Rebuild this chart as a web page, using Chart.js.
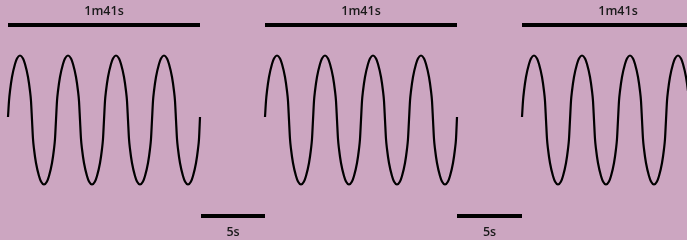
<!DOCTYPE html>
<html>
<head>
<meta charset="utf-8">
<script src="https://cdn.jsdelivr.net/npm/chart.js@4/dist/chart.umd.min.js"></script>
<style>
html,body{margin:0;padding:0;background:#cca6c1;}
#wrap{width:687px;height:240px;}
</style>
</head>
<body>
<div id="wrap"><canvas id="c"></canvas></div>
<script>
// where each wave block starts
const waveStarts=[8,265,522];
// one block of 4 cycles (x offset inside the block, y)
const waveX=[0,1,2,4,7,9,12,15,17,20,22,23,24,25,26,28,31,33,36,39,41,44,46,47,
    48,49,50,52,55,57,60,63,65,68,70,71,72,73,74,76,79,81,84,87,89,92,94,95,
    96,97,98,100,103,105,108,111,113,116,118,119,120,121,122,124,127,129,132,135,137,140,142,143,
    144,145,146,148,151,153,156,159,161,164,166,167,168,169,170,172,175,177,180,183,185,188,190,191,192];
const waveY=[117,101,91,77,64,58.5,55.5,58.5,64,77,91,101,120,139,149,163,176,181.5,184.5,181.5,176,163,149,139,
    120,101,91,77,64,58.5,55.5,58.5,64,77,91,101,120,139,149,163,176,181.5,184.5,181.5,176,163,149,139,
    120,101,91,77,64,58.5,55.5,58.5,64,77,91,101,120,139,149,163,176,181.5,184.5,181.5,176,163,149,139,
    120,101,91,77,64,58.5,55.5,58.5,64,77,91,101,120,139,149,163,176,181.5,184.5,181.5,176,163,149,139,117];
// top span bars
const spanStart=[8,265,522];
const spanEnd=[200,457,714];
const spanLabel=["1m41s","1m41s","1m41s"];
const spanY=25;
// gap bars
const gapStart=[201,457];
const gapEnd=[265,522];
const gapLabel=["5s","5s"];
const gapY=216;

let datasets=[];
waveStarts.forEach(s=>{
    datasets.push({
        data:waveX.map((x,i)=>({x:s+x,y:waveY[i]})),
        borderColor:"#000",borderWidth:2.2,pointRadius:0,
        cubicInterpolationMode:"monotone"
    });
});
spanStart.forEach((s,i)=>{
    datasets.push({data:[{x:s,y:spanY},{x:spanEnd[i],y:spanY}],borderColor:"#000",borderWidth:4,pointRadius:0});
});
gapStart.forEach((s,i)=>{
    datasets.push({data:[{x:s,y:gapY},{x:gapEnd[i],y:gapY}],borderColor:"#000",borderWidth:4,pointRadius:0});
});

const labelPlugin={
    id:"labels",
    afterDatasetsDraw(chart){
        const ctx=chart.ctx,x=chart.scales.x,y=chart.scales.y;
        ctx.save();
        ctx.fillStyle="#1a1a1a";
        ctx.font="600 12.5px 'Open Sans'";
        ctx.textAlign="center";
        ctx.textBaseline="middle";
        spanStart.forEach((s,i)=>{
            ctx.fillText(spanLabel[i],x.getPixelForValue((s+spanEnd[i])/2),y.getPixelForValue(11));
        });
        gapStart.forEach((s,i)=>{
            ctx.fillText(gapLabel[i],x.getPixelForValue((s+gapEnd[i])/2),y.getPixelForValue(232));
        });
        ctx.restore();
    }
};

new Chart(document.getElementById("c"),{
    type:"line",
    data:{datasets:datasets},
    options:{
        responsive:true,maintainAspectRatio:false,animation:false,
        layout:{padding:0},
        plugins:{legend:{display:false},tooltip:{enabled:false}},
        scales:{
            x:{type:"linear",min:0,max:687,display:false},
            y:{min:0,max:240,reverse:true,display:false}
        }
    },
    plugins:[labelPlugin]
});
</script>
</body>
</html>
